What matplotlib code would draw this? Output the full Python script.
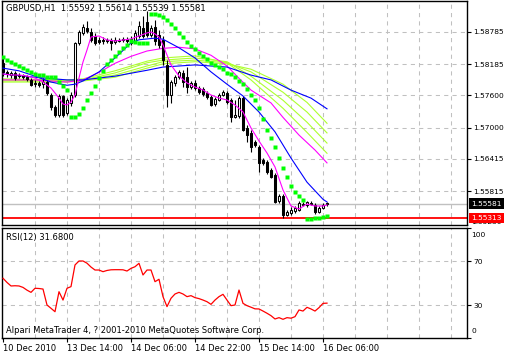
import matplotlib
matplotlib.use('Agg')
import matplotlib.pyplot as plt
from matplotlib.transforms import blended_transform_factory

# ---- candles (GBPUSD H1), one entry per bar ----
opens = [1.58206, 1.58038, 1.57982, 1.58019, 1.57963, 1.57982, 1.57945, 1.57889, 1.57814, 1.57833,
         1.57814, 1.57851, 1.57608, 1.57384, 1.57235, 1.57590, 1.57272, 1.57459, 1.57608, 1.58580,
         1.58767, 1.58860, 1.58785, 1.58711, 1.58636, 1.58636, 1.58617, 1.58636, 1.58598, 1.58636,
         1.58636, 1.58655, 1.58655, 1.58617, 1.58711, 1.58860, 1.58972, 1.58729, 1.58879, 1.58729,
         1.58636, 1.58169, 1.57608, 1.57833, 1.57945, 1.58019, 1.57945, 1.57758, 1.57833, 1.57739,
         1.57721, 1.57646, 1.57571, 1.57440, 1.57515, 1.57608, 1.57646, 1.57515, 1.57197, 1.57216,
         1.57552, 1.56992, 1.56899, 1.56731, 1.56638, 1.56394, 1.56357, 1.56207, 1.56114, 1.55628,
         1.55722, 1.55367, 1.55404, 1.55441, 1.55460, 1.55554, 1.55554, 1.55591, 1.55554, 1.55423,
         1.55498, 1.55592]
highs = [1.58300, 1.58075, 1.58057, 1.58057, 1.58019, 1.58001, 1.57982, 1.57926, 1.57889, 1.57870,
         1.57926, 1.57889, 1.57646, 1.57422, 1.57627, 1.57608, 1.57552, 1.57664, 1.58598, 1.58823,
         1.58935, 1.58991, 1.58860, 1.58767, 1.58692, 1.58692, 1.58673, 1.58673, 1.58692, 1.58673,
         1.58692, 1.58692, 1.58711, 1.58823, 1.58991, 1.59084, 1.59178, 1.58916, 1.59009, 1.58823,
         1.58711, 1.58262, 1.57889, 1.57982, 1.58075, 1.58075, 1.58131, 1.57870, 1.57889, 1.57777,
         1.57758, 1.57683, 1.57608, 1.57571, 1.57646, 1.57702, 1.57683, 1.57552, 1.57515, 1.57590,
         1.57590, 1.57048, 1.56955, 1.56768, 1.56675, 1.56432, 1.56394, 1.56245, 1.56151, 1.55759,
         1.55759, 1.55460, 1.55516, 1.55535, 1.55628, 1.55610, 1.55628, 1.55628, 1.55591, 1.55535,
         1.55591, 1.55614]
lows = [1.57963, 1.57945, 1.57926, 1.57889, 1.57926, 1.57907, 1.57870, 1.57777, 1.57758, 1.57758,
        1.57739, 1.57608, 1.57328, 1.57197, 1.57197, 1.57197, 1.57235, 1.57403, 1.57571, 1.58542,
        1.58729, 1.58767, 1.58598, 1.58542, 1.58561, 1.58561, 1.58580, 1.58449, 1.58561, 1.58598,
        1.58598, 1.58580, 1.58542, 1.58580, 1.58673, 1.58673, 1.58692, 1.58692, 1.58542, 1.58486,
        1.58169, 1.57384, 1.57459, 1.57777, 1.57907, 1.57758, 1.57646, 1.57721, 1.57702, 1.57627,
        1.57590, 1.57534, 1.57403, 1.57403, 1.57496, 1.57590, 1.57440, 1.57104, 1.57179, 1.57179,
        1.56936, 1.56731, 1.56544, 1.56638, 1.56170, 1.56301, 1.56133, 1.56058, 1.55591, 1.55591,
        1.55311, 1.55348, 1.55367, 1.55404, 1.55441, 1.55535, 1.55516, 1.55554, 1.55385, 1.55404,
        1.55479, 1.55539]
closes = [1.58038, 1.58001, 1.58019, 1.57926, 1.57982, 1.57945, 1.57907, 1.57795, 1.57833, 1.57795,
          1.57851, 1.57646, 1.57384, 1.57235, 1.57590, 1.57235, 1.57515, 1.57608, 1.58580, 1.58785,
          1.58879, 1.58804, 1.58636, 1.58580, 1.58598, 1.58617, 1.58636, 1.58580, 1.58636, 1.58617,
          1.58655, 1.58617, 1.58580, 1.58767, 1.58897, 1.58711, 1.58729, 1.58860, 1.58617, 1.58542,
          1.58262, 1.57608, 1.57851, 1.57945, 1.58038, 1.57851, 1.57758, 1.57833, 1.57739, 1.57664,
          1.57627, 1.57571, 1.57422, 1.57534, 1.57608, 1.57664, 1.57478, 1.57197, 1.57235, 1.57552,
          1.56955, 1.56861, 1.56638, 1.56675, 1.56338, 1.56338, 1.56170, 1.56077, 1.55610, 1.55722,
          1.55367, 1.55423, 1.55460, 1.55498, 1.55591, 1.55572, 1.55610, 1.55572, 1.55423, 1.55498,
          1.55554, 1.55581]

# ---- parabolic SAR, one dot per bar ----
sar = [1.58318, 1.58262, 1.58225, 1.58188, 1.58150, 1.58113, 1.58075, 1.58038, 1.58001, 1.57982,
       1.57982, 1.57945, 1.57945, 1.57945, 1.57851, 1.57777, 1.57702, 1.57197, 1.57197, 1.57253,
       1.57366, 1.57515, 1.57646, 1.57777, 1.57926, 1.58057, 1.58188, 1.58262, 1.58337, 1.58412,
       1.58486, 1.58542, 1.58617, 1.58598, 1.58580, 1.58580, 1.58580, 1.59121, 1.59121, 1.59103,
       1.59065, 1.59009, 1.58935, 1.58860, 1.58767, 1.58692, 1.58598, 1.58524, 1.58468, 1.58393,
       1.58337, 1.58281, 1.58206, 1.58169, 1.58131, 1.58094, 1.58019, 1.58001, 1.57945, 1.57870,
       1.57814, 1.57721, 1.57608, 1.57515, 1.57366, 1.57160, 1.56955, 1.56805, 1.56638, 1.56432,
       1.56245, 1.56077, 1.55909, 1.55797, 1.55722, 1.55647, 1.55292, 1.55292, 1.55311, 1.55311,
       1.55329, 1.55348]

# ---- moving averages, read at selected bars ----
fast_ma_x = [0, 2, 4, 6, 8, 10, 12, 13, 14, 15, 16, 17, 18, 19, 20, 21, 22, 24, 26, 28, 30, 32, 34,
             36, 37, 38, 39, 40, 42, 44, 46, 48, 50, 52, 54, 56, 58, 60, 62, 64, 66, 68, 70, 72, 74,
             76, 78, 80, 81]
fast_ma = [1.58001, 1.57982, 1.57982, 1.57963, 1.57926, 1.57851, 1.57739, 1.57646, 1.57552, 1.57440,
           1.57422, 1.57478, 1.57608, 1.57926, 1.58225, 1.58449, 1.58692, 1.58711, 1.58636, 1.58617,
           1.58636, 1.58655, 1.58711, 1.58767, 1.58785, 1.58748, 1.58692, 1.58542, 1.58169, 1.57963,
           1.57833, 1.57758, 1.57702, 1.57608, 1.57552, 1.57515, 1.57422, 1.57291, 1.56992, 1.56749,
           1.56525, 1.56264, 1.55834, 1.55535, 1.55479, 1.55572, 1.55535, 1.55535, 1.55554]

mid_ma_x = [0, 4, 8, 12, 16, 18, 20, 24, 28, 32, 34, 38, 40, 44, 48, 52, 56, 60, 64, 68, 72, 76, 80, 81]
mid_ma = [1.5811, 1.5806, 1.5796, 1.5785, 1.5779, 1.5781, 1.5787, 1.5804, 1.5830, 1.5858, 1.5864,
          1.5867, 1.5865, 1.5849, 1.5830, 1.5804, 1.5781, 1.5759, 1.5729, 1.5692, 1.5643, 1.5598,
          1.5566, 1.5561]

slow_blue_x = [0, 8, 16, 20, 28, 36, 40, 48, 56, 62, 67, 72, 77, 81]
slow_blue = [1.5800, 1.5794, 1.5789, 1.5789, 1.5796, 1.5807, 1.5813, 1.5817, 1.5813, 1.5798, 1.5789,
             1.5770, 1.5755, 1.5735]

slow_mag_x = [0, 8, 16, 20, 24, 28, 32, 36, 40, 44, 48, 52, 56, 59, 62, 67, 70, 74, 78, 81]
slow_mag = [1.5789, 1.5789, 1.5785, 1.5789, 1.5803, 1.5820, 1.5833, 1.5843, 1.5848, 1.5850, 1.5847,
            1.5835, 1.5815, 1.5792, 1.5770, 1.5746, 1.5719, 1.5686, 1.5658, 1.5634]

ribbon_x = [0, 16, 20, 28, 36, 40, 48, 56, 62, 70, 76, 81]
ribbon_1 = [1.5791, 1.5789, 1.5791, 1.5806, 1.5824, 1.5830, 1.5834, 1.5821, 1.5789, 1.5736, 1.5691, 1.5652]
ribbon_2 = [1.5789, 1.5787, 1.5789, 1.5802, 1.5821, 1.5826, 1.5830, 1.5823, 1.5796, 1.5751, 1.5710, 1.5671]
ribbon_3 = [1.5787, 1.5787, 1.5789, 1.5798, 1.5815, 1.5823, 1.5826, 1.5821, 1.5804, 1.5766, 1.5729, 1.5690]
ribbon_4 = [1.5785, 1.5785, 1.5787, 1.5794, 1.5811, 1.5819, 1.5823, 1.5819, 1.5809, 1.5781, 1.5747, 1.5708]

# ---- RSI(12), one value per bar ----
rsi = [54.3, 50.5, 47.3, 47.5, 47.3, 46.0, 43.5, 41.5, 45.2, 45.0,
       44.5, 30.0, 27.0, 23.9, 42.1, 34.5, 45.2, 46.7, 66.4, 70.0,
       70.0, 68.0, 64.5, 61.8, 61.8, 60.3, 61.4, 62.0, 62.1, 62.1,
       62.0, 60.9, 63.3, 64.8, 67.9, 57.3, 61.8, 61.8, 51.2, 53.4,
       37.6, 28.5, 36.1, 40.0, 41.5, 40.0, 37.6, 38.5, 36.7, 35.8,
       34.5, 33.0, 30.6, 34.5, 37.6, 39.7, 34.5, 29.4, 30.0, 43.6,
       31.5, 29.4, 28.0, 26.5, 26.4, 24.5, 22.5, 20.3, 17.3, 18.5,
       17.0, 18.5, 18.0, 19.4, 25.5, 24.5, 27.9, 26.4, 24.5, 27.6,
       31.5, 31.68]

price_ticks = [1.58785, 1.58185, 1.57600, 1.57000, 1.56415, 1.55815]
date_ticks = [0, 16, 32, 48, 64, 80]
date_labels = ['10 Dec 2010', '13 Dec 14:00', '14 Dec 06:00', '14 Dec 22:00', '15 Dec 14:00', '16 Dec 06:00']
level_line = 1.55313
title = 'GBPUSD,H1  1.55592 1.55614 1.55539 1.55581'

plt.rcParams['font.family'] = 'DejaVu Sans'
W, H = 505, 355
fig = plt.figure(figsize=(W / 100, H / 100), dpi=100)


def px_axes(x0, y0, x1, y1):
    return fig.add_axes([x0 / W, 1 - y1 / H, (x1 - x0) / W, (y1 - y0) / H])


ax = px_axes(2, 1, 467, 225)
ax2 = px_axes(2, 228, 467, 338)
grid_kw = dict(color='#C0C0C0', lw=0.75, ls=(0, (4, 4)), zorder=0)
FS = 6      # left-side texts
FS_R = 5.4  # right-hand scale labels

# main chart
ax.set_xlim(-0.25, 116)
ax.set_ylim(1.55180, 1.59364)
for gx in range(8, 116, 8):
    ax.axvline(gx, **grid_kw)
for gy in price_ticks:
    ax.axhline(gy, **grid_kw)

ax.axhline(closes[-1], color='#C0C0C0', lw=1.0, zorder=1)
ax.axhline(level_line, color='red', lw=1.3, zorder=1)

n = len(closes)
xs = list(range(n))
ax.vlines(xs, lows, highs, color='black', lw=0.8, zorder=3)
for i in range(n):
    o, c = opens[i], closes[i]
    fc = 'white' if c >= o else 'black'
    ax.bar(i, max(abs(c - o), 1e-6), bottom=min(o, c), width=0.62, color=fc,
           edgecolor='black', linewidth=0.75, zorder=4)

for rib in [ribbon_4, ribbon_3, ribbon_2, ribbon_1]:
    ax.plot(ribbon_x, rib, color='#ADFF2F', lw=0.8, zorder=2)
ax.plot(slow_mag_x, slow_mag, color='#FF00FF', lw=0.8, zorder=2)
ax.plot(slow_blue_x, slow_blue, color='#0000FF', lw=0.8, zorder=2)
ax.plot(mid_ma_x, mid_ma, color='#0000FF', lw=0.8, zorder=5)
ax.plot(fast_ma_x, fast_ma, color='#FF00FF', lw=0.8, zorder=5)
ax.plot(xs, sar, 's', color='#00FF00', ms=2.6, mec='none', zorder=6)

ax.yaxis.tick_right()
ax.set_yticks(price_ticks)
ax.set_yticklabels([f'{t:.5f}' for t in price_ticks])
ax.set_xticks([])
ax.tick_params(axis='y', length=3, width=0.8, labelsize=FS_R, pad=1.5)
for s in ax.spines.values():
    s.set_linewidth(1.0)

btr = blended_transform_factory(ax.transAxes, ax.transData)
ax.text(1.0097, 1.55230, '1.55230', transform=btr, fontsize=FS_R, va='center', ha='left',
        clip_on=False, zorder=1)
ax.text(1.0097, closes[-1], f'{closes[-1]:.5f}', transform=btr, fontsize=FS_R, color='white',
        va='center', ha='left', clip_on=False, zorder=10,
        bbox=dict(boxstyle='square,pad=0.3', fc='black', ec='none'))
ax.text(1.0097, level_line, f'{level_line:.5f}', transform=btr, fontsize=FS_R, color='white',
        va='center', ha='left', clip_on=False, zorder=10,
        bbox=dict(boxstyle='square,pad=0.3', fc='red', ec='none'))
ax.text(0.009, 0.965, title, transform=ax.transAxes, fontsize=FS, va='center', ha='left')

# RSI panel
ax2.set_xlim(-0.25, 116)
ax2.set_ylim(0, 100)
for gx in range(8, 116, 8):
    ax2.axvline(gx, **grid_kw)
for gy in [70, 30]:
    ax2.axhline(gy, **grid_kw)
ax2.plot(xs, rsi, color='red', lw=0.9, zorder=3)
ax2.yaxis.tick_right()
ax2.set_yticks([100, 70, 30, 0])
ax2.set_yticklabels(['', '70', '30', ''])
ax2.tick_params(axis='y', length=3, width=0.8, labelsize=FS_R, pad=1.5)
ax2.text(1.0097, 0.935, '100', transform=ax2.transAxes, fontsize=FS_R, va='center', ha='left')
ax2.text(1.0097, 0.06, '0', transform=ax2.transAxes, fontsize=FS_R, va='center', ha='left')
ax2.set_xticks(date_ticks)
ax2.set_xticklabels(date_labels, ha='left')
ax2.tick_params(axis='x', length=3, width=0.8, labelsize=FS, pad=1)
for s in ax2.spines.values():
    s.set_linewidth(1.0)
ax2.text(0.009, 0.91, 'RSI(12) 31.6800', transform=ax2.transAxes, fontsize=FS, va='center', ha='left')
ax2.text(0.009, 0.065, 'Alpari MetaTrader 4, ? 2001-2010 MetaQuotes Software Corp.',
         transform=ax2.transAxes, fontsize=FS, va='center', ha='left')

fig.savefig('out.png', dpi=100)
